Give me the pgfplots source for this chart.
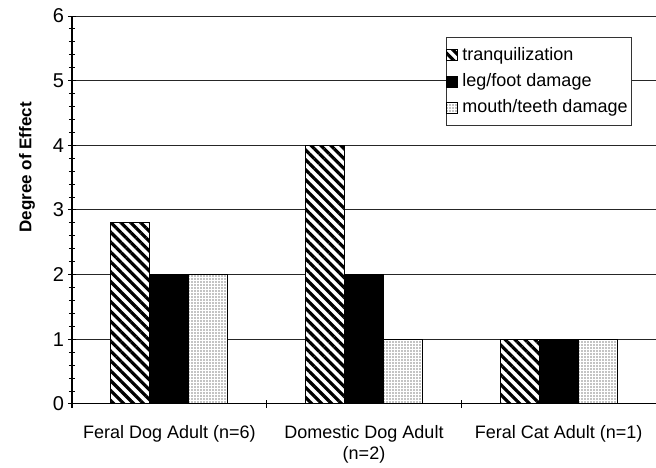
\documentclass[border=0pt]{standalone}
\usepackage{fontspec}
\setmainfont{Liberation Sans}
\usepackage{pgfplots}
\pgfplotsset{compat=1.18}
\usetikzlibrary{patterns.meta,calc}

\begin{document}
\begin{tikzpicture}
\begin{axis}[
  name=ax,
  scale only axis, width=292pt, height=194pt,
  xmin=-0.5, xmax=2.5, ymin=0, ymax=6,
  axis lines*=left,
  axis line style={black, line width=0.5pt},
  xtick={-0.5,0.5,1.5,2.5},
  x tick label as interval,
  xticklabels={Feral Dog Adult (n=6), Domestic Dog Adult\\(n=2), Feral Cat Adult (n=1)},
  xticklabel style={align=center, font=\fontsize{9}{10.5}\selectfont, yshift=-5pt},
  ytick={0,1,2,3,4,5,6},
  minor y tick num=4,
  ymajorgrids,
  major grid style={black!85, line width=0.5pt},
  tick align=center,
  major tick length=4pt, minor tick length=3pt,
  tick style={black, line width=0.5pt},
  yticklabel style={font=\fontsize{10}{11}\selectfont, xshift=1.5pt},
  /pgf/number format/assume math mode=true,
  ylabel={Degree of Effect},
  ylabel style={font=\bfseries\fontsize{8.5}{10}\selectfont, at={(axis description cs:-0.077,0.61)}, anchor=center},
  legend style={at={(rel axis cs:0.959,0.946)}, anchor=north east, draw=black!80, line width=0.5pt,
    fill=white, font=\fontsize{9}{10}\selectfont, inner xsep=0pt, inner ysep=2.8pt,
    row sep=1.2pt, cells={anchor=west}},
  legend image code/.code={\draw[#1] (-1.5pt,-2.75pt) rectangle (4pt,2.75pt);},
]
\addplot[ybar, bar width=0.2, bar shift=-0.2, draw=black, line width=0.5pt, fill=white,
  postaction={pattern={Lines[angle=-45,distance=3.5pt,line width=1.6pt]}}]
  coordinates {(0,2.8) (1,4) (2,1)};
\addplot[ybar, bar width=0.2, bar shift=0, draw=black, line width=0.5pt, fill=black]
  coordinates {(0,2) (1,2) (2,1)};
\addplot[ybar, bar width=0.2, bar shift=0.2, draw=black, line width=0.5pt, fill=white,
  postaction={pattern={Dots[distance=1.5pt,radius=0.28pt]}}]
  coordinates {(0,2) (1,1) (2,1)};
\legend{tranquilization, leg/foot damage, mouth/teeth damage}
\end{axis}
\pgfresetboundingbox
\path[use as bounding box] ($(ax.south west)+(-36pt,-32pt)$) rectangle ($(ax.north east)+(0pt,8pt)$);
\end{tikzpicture}
\end{document}
